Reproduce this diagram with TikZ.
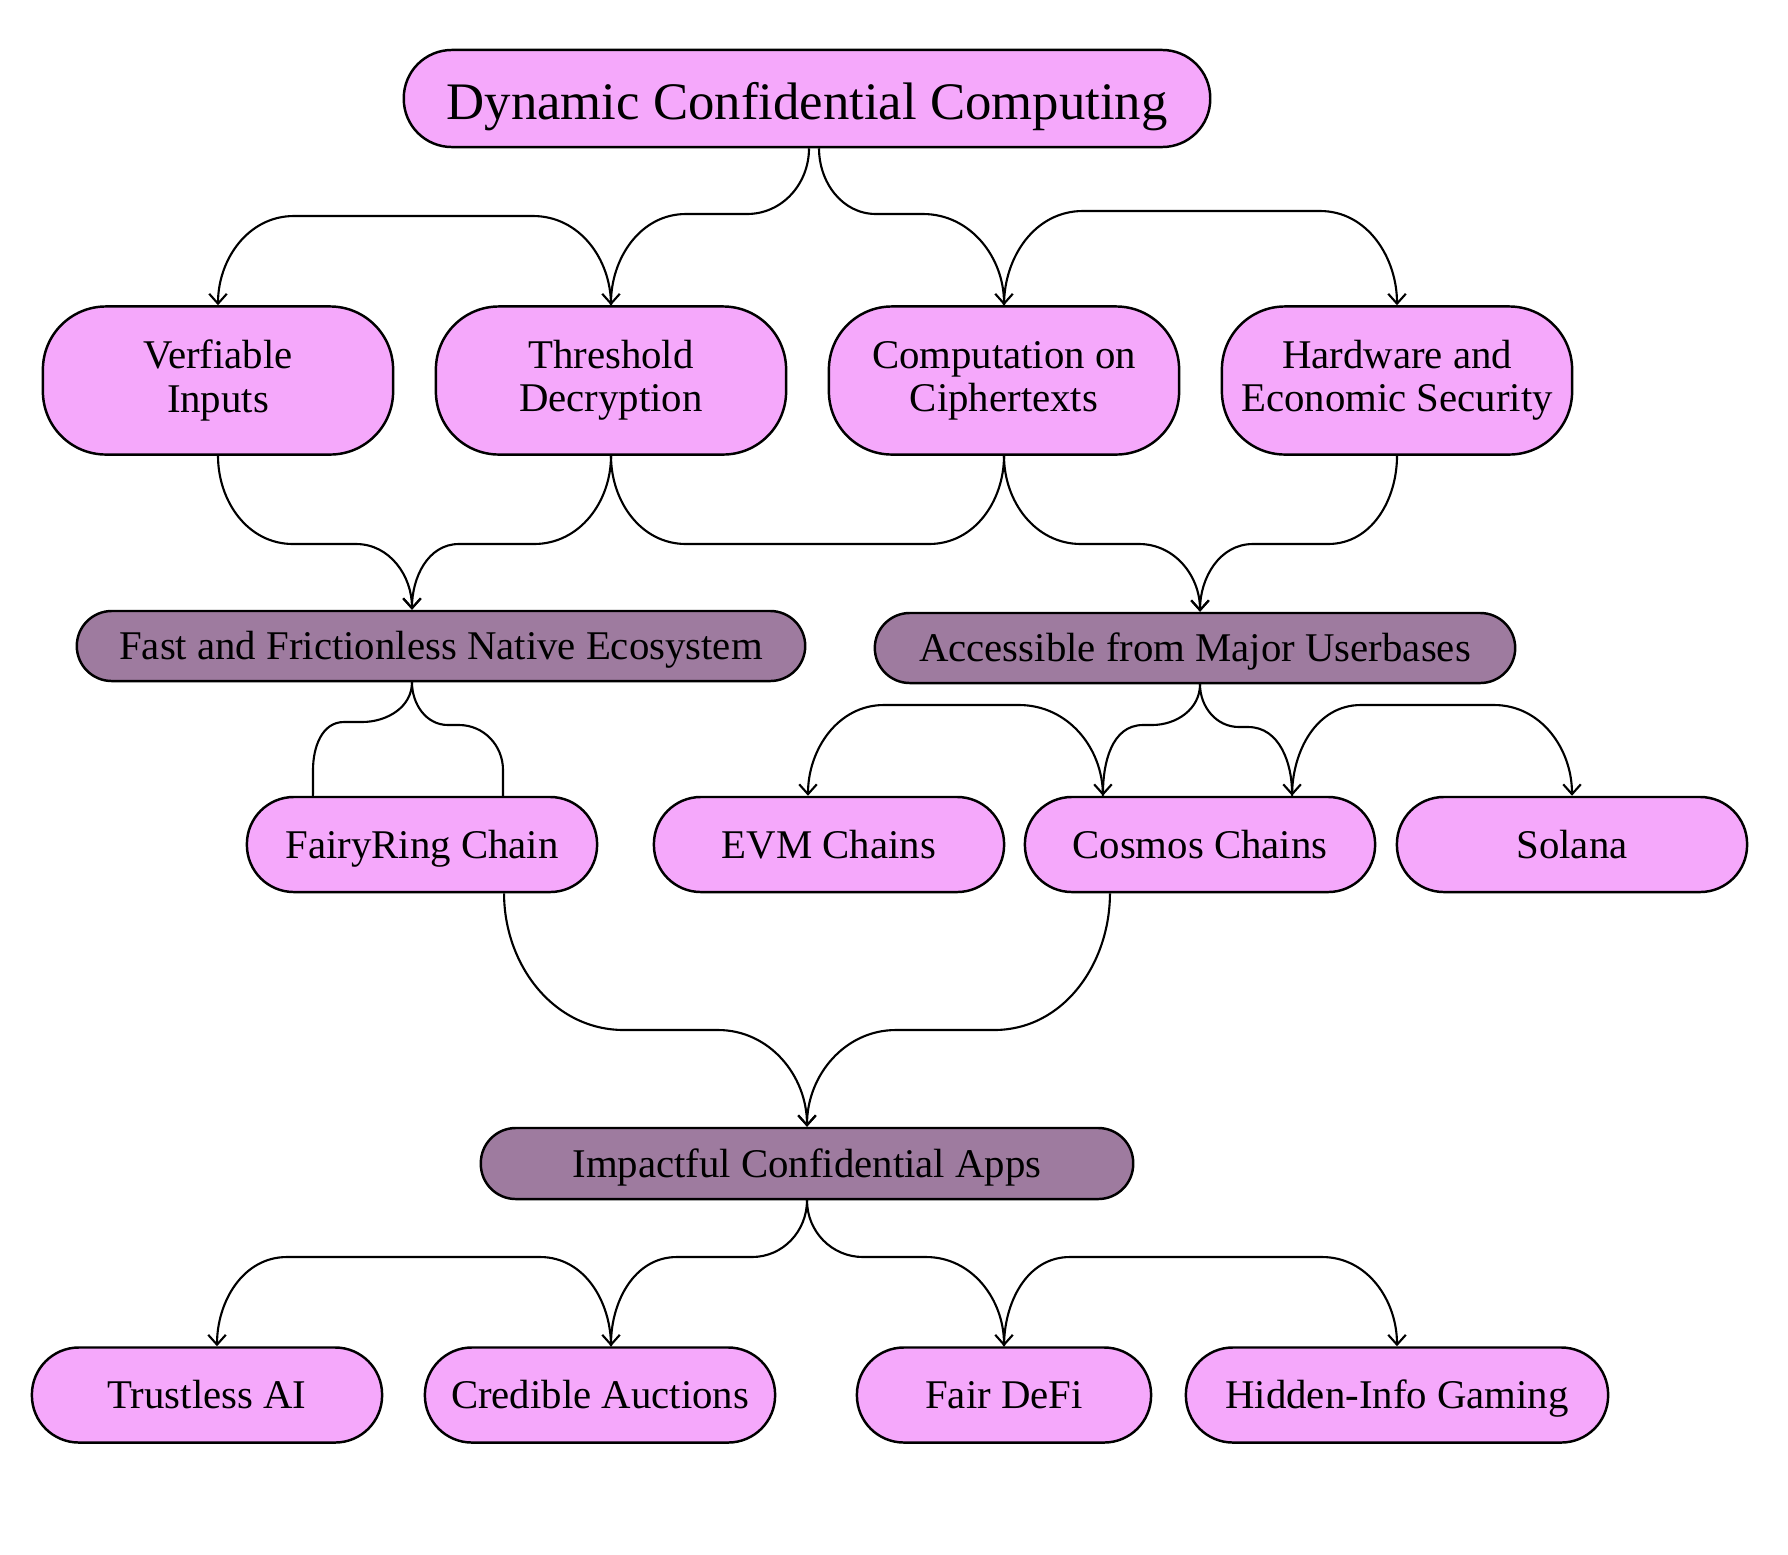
\documentclass[tikz,border=0pt]{standalone}
\usepackage{fontspec}
\setmainfont{Liberation Serif}
\usetikzlibrary{arrows.meta}

\definecolor{nodepink}{RGB}{245,168,251}
\definecolor{nodemauve}{RGB}{158,123,159}

\tikzset{
    shape base/.style={draw, line width=0.7pt, fill=nodepink, rounded corners=0.47cm, minimum width=3.5cm, minimum height=0.95cm, inner sep=0pt, align=center, font=\fontsize{11.6}{12.3}\selectfont},
    box/.style={shape base, text height=0.78em, text depth=0pt},
    tallbox/.style={shape base, rounded corners=0.63cm, minimum height=1.48cm},
    hub/.style={box, fill=nodemauve, rounded corners=0.35cm, minimum height=0.7cm},
    topbox/.style={box, rounded corners=0.48cm, minimum height=0.97cm, minimum width=8.06cm, font=\fontsize{15}{18}\selectfont, text height=1.2em},
    link/.style={line width=0.6pt, ->, >={Straight Barb[length=2.8pt,width=5pt]}},
    plain/.style={line width=0.6pt}
}

\begin{document}
\begin{tikzpicture}[x=0.01cm, y=0.01cm]

    \useasboundingbox (0,0) rectangle (1788,-1554);

    % Draw the nodes
    \node[topbox] (dcc) at (807,-98.5) {Dynamic Confidential Computing};

    \node[tallbox] (ver) at (218,-380.5) {Verfiable\\Inputs};
    \node[tallbox] (thr) at (611,-380.5) {Threshold\\Decryption};
    \node[tallbox] (cmp) at (1004,-380.5) {Computation on\\Ciphertexts};
    \node[tallbox] (hws) at (1397,-380.5) {Hardware and\\Economic Security};

    \node[hub, minimum width=7.28cm] (ffe) at (441,-646) {Fast and Frictionless Native Ecosystem};
    \node[hub, minimum width=6.4cm] (amu) at (1195,-648) {Accessible from Major Userbases};

    \node[box] (frc) at (422,-844.5) {FairyRing Chain};
    \node[box] (evm) at (829,-844.5) {EVM Chains};
    \node[box] (cos) at (1200,-844.5) {Cosmos Chains};
    \node[box] (sol) at (1572,-844.5) {Solana};

    \node[hub, minimum width=6.52cm, minimum height=0.71cm] (ica) at (807,-1163.5) {Impactful Confidential Apps};

    \node[box] (tai) at (207,-1395) {Trustless AI};
    \node[box] (cra) at (600,-1395) {Credible Auctions};
    \node[box, minimum width=2.94cm] (fdf) at (1004,-1395) {Fair DeFi};
    \node[box, minimum width=4.22cm] (hig) at (1397,-1395) {Hidden-Info Gaming};

    % Draw the connectors
    \draw[link] ([xshift=0.02cm]dcc.south) to[out=-90,in=0] (747,-214) -- (686,-214) to[out=180,in=90] (thr.north);
    \draw[link] (thr.north) to[out=90,in=0] (533,-216) -- (294,-216) to[out=180,in=90] (ver.north);
    \draw[link] ([xshift=0.12cm]dcc.south) to[out=-90,in=180] (876,-214) -- (923,-214) to[out=0,in=90] (cmp.north);
    \draw[link] (cmp.north) to[out=90,in=180] (1083,-211) -- (1320,-211) to[out=0,in=90] (hws.north);

    \draw[link] (ver.south) to[out=-90,in=180] (293,-544) -- (356,-544) to[out=0,in=90] ([xshift=-0.29cm]ffe.north);
    \draw[link] (thr.south) to[out=-90,in=0] (534,-544) -- (459,-544) to[out=180,in=90] ([xshift=-0.29cm]ffe.north);
    \draw[plain] (thr.south) to[out=-90,in=180] (686,-544) -- (929,-544) to[out=0,in=-90] (cmp.south);
    \draw[link] (cmp.south) to[out=-90,in=180] (1081,-544) -- (1139,-544) to[out=0,in=90] ([xshift=0.05cm]amu.north);
    \draw[link] (hws.south) to[out=-90,in=0] (1328,-544) -- (1253,-544) to[out=180,in=90] ([xshift=0.05cm]amu.north);

    \draw[plain] ([xshift=-0.29cm]ffe.south) to[out=-90,in=0] (362,-722) -- (344,-722) to[out=180,in=90] (313,-770) -- ([xshift=-1.09cm]frc.north);
    \draw[plain] ([xshift=-0.29cm]ffe.south) to[out=-90,in=180] (448,-725) -- (459,-725) to[out=0,in=90] (503,-770) -- ([xshift=0.81cm]frc.north);

    \draw[link] ([xshift=0.05cm]amu.south) to[out=-90,in=0] (1152,-725) -- (1143,-725) to[out=180,in=90] ([xshift=-0.97cm]cos.north);
    \draw[link] ([xshift=-0.97cm]cos.north) to[out=90,in=0] (1019,-705) -- (884,-705) to[out=180,in=90] ([xshift=-0.21cm]evm.north);
    \draw[link] ([xshift=0.05cm]amu.south) to[out=-90,in=180] (1239,-727) -- (1248,-727) to[out=0,in=90] ([xshift=0.92cm]cos.north);
    \draw[link] ([xshift=0.92cm]cos.north) to[out=90,in=180] (1361,-705) -- (1494,-705) to[out=0,in=90] (sol.north);

    \draw[link] ([xshift=0.82cm]frc.south) to[out=-90,in=180] (624,-1030) -- (718,-1030) to[out=0,in=90] (ica.north);
    \draw[link] ([xshift=-0.9cm]cos.south) to[out=-90,in=0] (994,-1030) -- (896,-1030) to[out=180,in=90] (ica.north);

    \draw[link] (ica.south) to[out=-90,in=0] (752,-1257) -- (677,-1257) to[out=180,in=90] ([xshift=0.11cm]cra.north);
    \draw[link] ([xshift=0.11cm]cra.north) to[out=90,in=0] (540,-1257) -- (287,-1257) to[out=180,in=90] ([xshift=0.1cm]tai.north);
    \draw[link] (ica.south) to[out=-90,in=180] (863,-1257) -- (926,-1257) to[out=0,in=90] (fdf.north);
    \draw[link] (fdf.north) to[out=90,in=180] (1070,-1257) -- (1322,-1257) to[out=0,in=90] (hig.north);

\end{tikzpicture}
\end{document}
